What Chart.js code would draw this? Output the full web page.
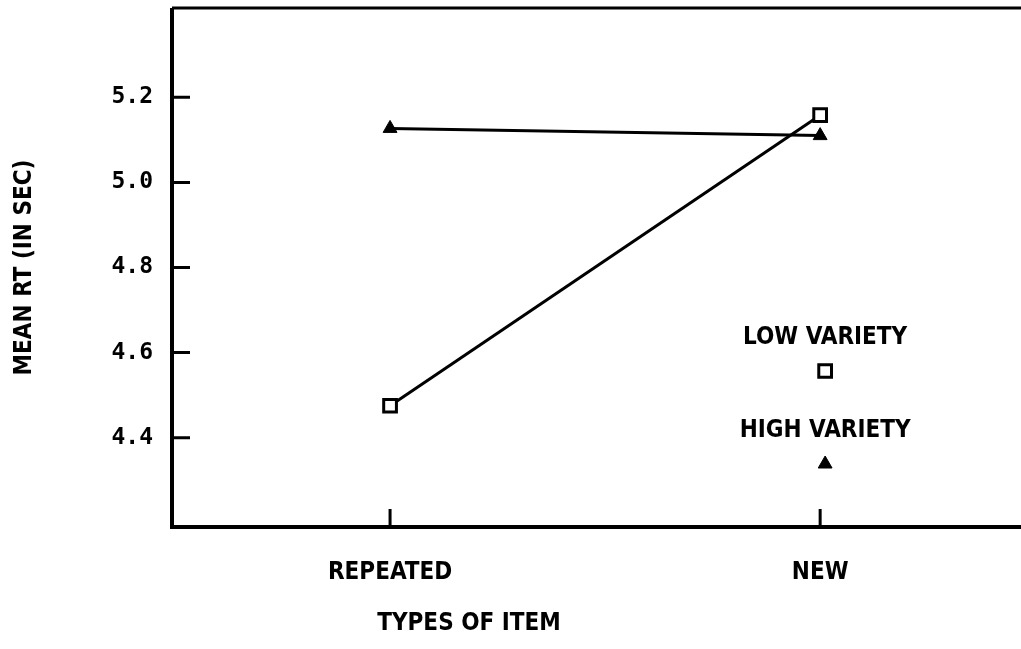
<!DOCTYPE html>
<html>
<head>
<meta charset="utf-8">
<script src="https://cdn.jsdelivr.net/npm/chart.js@4/dist/chart.umd.min.js"></script>
<style>
  html, body { margin: 0; padding: 0; background: #fff; overflow: hidden; }
  #wrap { width: 1021px; height: 649px; position: relative; }
</style>
</head>
<body>
<div id="wrap"><canvas id="chart"></canvas></div>
<script>
// data
const itemTypes = ["REPEATED", "NEW"];
const lowVariety = [4.475, 5.158];
const highVariety = [5.127, 5.11];
const seriesNames = ["LOW VARIETY", "HIGH VARIETY"];
const yTickValues = [4.4, 4.6, 4.8, 5.0, 5.2];
const yTitle = "MEAN RT (IN SEC)";
const xTitle = "TYPES OF ITEM";

const letterFont = { family: "'Liberation Sans Narrow', 'DejaVu Sans Condensed', 'DejaVu Sans Mono', sans-serif", size: 24, weight: "bold" };
const digitFont = { family: "'DejaVu Sans Mono', monospace", size: 23, weight: "bold" };

const toPoints = (vals) => vals.map((v, i) => ({ x: i, y: v }));

// axes, inward ticks, titles and the inset key
const paperDecor = {
  id: "paperDecor",
  afterDraw(chart) {
    const { ctx, chartArea: a, scales } = chart;
    const x = scales.x, y = scales.y;
    ctx.save();
    ctx.strokeStyle = "#000";
    ctx.lineCap = "butt";

    // frame: left, bottom, top (right side runs off the page)
    ctx.lineWidth = 4;
    ctx.beginPath();
    ctx.moveTo(a.left, a.top);
    ctx.lineTo(a.left, a.bottom);
    ctx.lineTo(a.right, a.bottom);
    ctx.stroke();
    ctx.lineWidth = 3;
    ctx.beginPath();
    ctx.moveTo(a.left, a.top);
    ctx.lineTo(a.right, a.top);
    ctx.stroke();

    // tick marks point into the plot
    ctx.lineWidth = 3;
    ctx.beginPath();
    yTickValues.forEach((v) => {
      const py = y.getPixelForValue(v);
      ctx.moveTo(a.left, py);
      ctx.lineTo(a.left + 18, py);
    });
    itemTypes.forEach((t, i) => {
      const px = x.getPixelForValue(i);
      ctx.moveTo(px, a.bottom);
      ctx.lineTo(px, a.bottom - 18);
    });
    ctx.stroke();

    // x title sits left of centre in the original
    ctx.fillStyle = "#000";
    ctx.font = Chart.helpers.toFont(letterFont).string;
    ctx.textAlign = "center";
    ctx.textBaseline = "middle";
    ctx.fillText(xTitle, a.left + 297, 624);

    // key: label above its marker
    const kx = x.getPixelForValue(1) + 5;
    const keyRows = [338, 431];
    chart.data.datasets.forEach((ds, i) => {
      ctx.fillStyle = "#000";
      ctx.fillText(seriesNames[i], kx, keyRows[i]);
      const opts = chart.getDatasetMeta(i).data[0].options;
      ctx.strokeStyle = opts.borderColor;
      ctx.fillStyle = opts.backgroundColor;
      ctx.lineWidth = opts.borderWidth;
      Chart.helpers.drawPoint(ctx, {
        pointStyle: opts.pointStyle,
        radius: opts.radius,
        rotation: 0,
        borderWidth: opts.borderWidth
      }, kx, keyRows[i] + 33);
    });
    ctx.restore();
  }
};

// the label overhang padding would push the plot frame in
const noOverhang = (scale) => {
  scale.paddingTop = 0;
  scale.paddingBottom = 0;
  scale.paddingLeft = 0;
  scale.paddingRight = 0;
};

new Chart(document.getElementById("chart"), {
  type: "scatter",
  data: {
    datasets: [
      {
        label: seriesNames[0],
        data: toPoints(lowVariety),
        showLine: true,
        borderColor: "#000",
        borderWidth: 3,
        backgroundColor: "#fff",
        pointStyle: "rect",
        pointRadius: 9,
        pointBorderWidth: 3,
        pointBorderColor: "#000",
        pointBackgroundColor: "#fff"
      },
      {
        label: seriesNames[1],
        data: toPoints(highVariety),
        showLine: true,
        borderColor: "#000",
        borderWidth: 3,
        backgroundColor: "#000",
        pointStyle: "triangle",
        pointRadius: 8,
        pointBorderWidth: 1,
        pointBorderColor: "#000",
        pointBackgroundColor: "#000"
      }
    ]
  },
  options: {
    responsive: true,
    maintainAspectRatio: false,
    animation: false,
    layout: { autoPadding: false, padding: { top: 8, right: 0, bottom: 0, left: 0 } },
    plugins: {
      legend: { display: false },
      tooltip: { enabled: false }
    },
    scales: {
      x: {
        type: "linear",
        min: -0.507,
        max: 1.467,
        grid: { display: false, drawTicks: false },
        border: { display: false },
        afterBuildTicks: (scale) => {
          scale.ticks = itemTypes.map((t, i) => ({ value: i }));
        },
        afterFit: (scale) => { scale.height = 122; noOverhang(scale); },
        ticks: {
          color: "#000",
          font: letterFont,
          padding: 31,
          maxRotation: 0,
          autoSkip: false,
          callback: (v) => itemTypes[v]
        }
      },
      y: {
        min: 4.19,
        max: 5.41,
        grid: { display: false, drawTicks: false },
        border: { display: false },
        afterBuildTicks: (scale) => {
          scale.ticks = yTickValues.map((v) => ({ value: v }));
        },
        afterFit: (scale) => { scale.width = 172; noOverhang(scale); },
        ticks: {
          color: "#000",
          font: digitFont,
          padding: 19,
          callback: (v) => v.toFixed(1)
        },
        title: {
          display: true,
          text: yTitle,
          color: "#000",
          font: letterFont,
          padding: { top: 10, bottom: 0 }
        }
      }
    }
  },
  plugins: [paperDecor]
});
</script>
</body>
</html>
